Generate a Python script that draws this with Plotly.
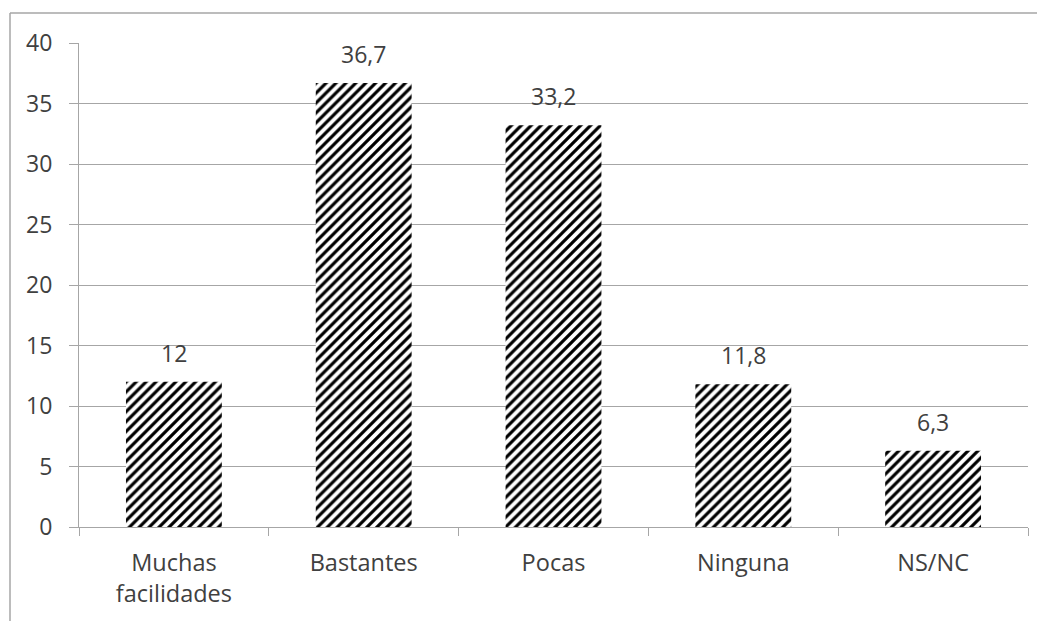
import plotly.graph_objects as go

categories = ["Muchas<br>facilidades", "Bastantes", "Pocas", "Ninguna", "NS/NC"]
values = [12, 36.7, 33.2, 11.8, 6.3]
labels = ["12", "36,7", "33,2", "11,8", "6,3"]
y_ticks = [0, 5, 10, 15, 20, 25, 30, 35, 40]

OFF = 8  # default page body margin
W, H = 1045 - OFF, 621 - OFF
L, R, T, B = 79 - OFF, 17, 43 - OFF, 94
pw = W - L - R
ph = H - T - B

fig = go.Figure(go.Bar(
    x=categories, y=values,
    marker=dict(color="white", line=dict(width=0),
                pattern=dict(shape="/", fgcolor="black", bgcolor="white",
                             fgopacity=1, size=7, solidity=0.45)),
    hoverinfo="skip",
))

for c, v, t in zip(categories, values, labels):
    fig.add_annotation(x=c, y=v, text=t, showarrow=False, yanchor="bottom",
                       yshift=11, font=dict(size=23, color="#404040"))

font = "Open Sans, Liberation Sans, sans-serif"
fig.update_layout(
    width=W, height=H, margin=dict(l=L, r=R, t=T, b=B),
    paper_bgcolor="white", plot_bgcolor="white",
    font=dict(family=font, size=23, color="#404040"),
    bargap=0.495, showlegend=False,
    xaxis=dict(showline=True, linecolor="#a6a6a6", linewidth=1, ticks="outside",
               tickson="boundaries", ticklen=8, tickcolor="#a6a6a6",
               tickfont=dict(size=23.5, color="#404040"), showgrid=False,
               ticklabelstandoff=15),
    yaxis=dict(range=[0, 40], tickvals=y_ticks, showgrid=True, gridcolor="#a6a6a6",
               gridwidth=1, showline=True, linecolor="#a6a6a6", ticks="outside",
               ticklen=9, tickcolor="#a6a6a6", tickfont=dict(size=23, color="#404040"),
               zeroline=False, ticklabelstandoff=12),
    shapes=[
        dict(type="line", xref="paper", yref="paper",
             x0=(10 - 79) / pw, x1=(1045 - 79) / pw, y0=1 + (43 - 13) / ph, y1=1 + (43 - 13) / ph,
             line=dict(color="#a6a6a6", width=1.5)),
        dict(type="line", xref="paper", yref="paper",
             x0=(10 - 79) / pw, x1=(10 - 79) / pw, y0=1 + (43 - 13) / ph, y1=-(B + 10) / ph,
             line=dict(color="#a6a6a6", width=1.5)),
    ],
)
fig.write_html("out.html")
